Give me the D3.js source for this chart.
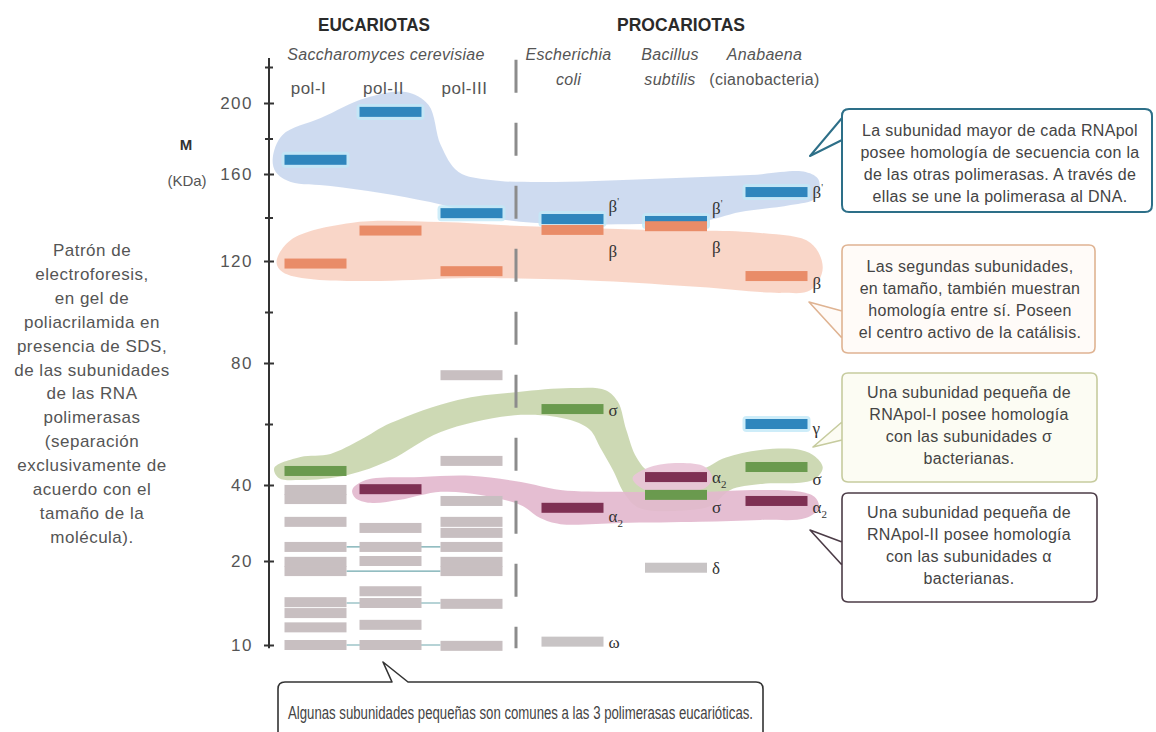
<!DOCTYPE html>
<html>
<head>
<meta charset="utf-8">
<script src="https://cdn.jsdelivr.net/npm/d3@7"></script>
<style>
  body { margin: 0; background: #fff; }
  svg { display: block; font-family: "Liberation Sans", Arial, sans-serif; }
  .greek { font-family: "Liberation Serif", "DejaVu Serif", serif; }
</style>
</head>
<body>
<svg id="chart" width="1156" height="732"></svg>
<script>
// gel lanes
var lanes = ["pol-I", "pol-II", "pol-III", "E. coli", "B. subtilis", "Anabaena"];

// subunit sizes (kDa) read from the gel, null = no band in that lane
var largest   = [168, 195, 142, 139.3, 138.4, 151.7];   // beta' family (blue)
var second    = [119, 134, 116, 134.3, 136, 114.1];     // beta family (orange)
var sigmaLike = [44.6, null, null, 64.9, 37.4, 45.9];   // sigma family (green)
var alphaLike = [null, 38.9, null, 34, 42.6, 35.8];     // alpha family (maroon)
var gammaSub  = [null, null, null, null, null, 60];     // gamma, Anabaena (blue)

// small eukaryotic subunits (grey)
var polISmall   = [38.7, 36.3, 30.3, 23.7, 19.9, 18.8, 15.1, 13.8, 12.1, 10];
var polIISmall  = [28.7, 23.7, 20, 16.4, 15, 12.4, 10];
var polIIISmall = [76, 47.9, 35.8, 30.3, 27.4, 23.7, 19.9, 18.8, 14.9, 9.9];
var commonSmall = [23.7, 18.8, 15, 10];   // shared by the 3 eukaryotic pols

// small bacterial subunits (grey)
var prokSmall = [
  {lane: 3, kDa: 10.4, name: "ω"},
  {lane: 4, kDa: 19.2, name: "δ"}
];

var majorTicks = [10, 20, 40, 80, 120, 160, 200];
var minorTicks = [60, 100, 140, 180, 220];

// homology areas, outline as [lane, kDa]
var blueArea = [[-0.57,169],[-0.44,182],[0.07,191.5],[0.67,202.8],[1.19,206.1],[1.47,198.9],[1.62,176.3],[1.84,161.1],[2.19,157.2],[2.68,156.3],[3.75,157.7],[4.74,159.5],[5.29,161.1],[5.42,157.2],[5.39,149],[5.14,145.7],[4.64,142.5],[4.24,138],[3.65,137],[2.88,137],[2.34,138.9],[1.99,142.5],[1.49,147.1],[0.87,151.3],[0.2,154.5],[-0.33,156.3],[-0.53,161.1]];
var orangeArea = [[-0.52,119.6],[-0.33,129.7],[0.47,137.5],[1.62,137.9],[2.49,136.1],[3.75,134.3],[4.84,132.9],[5.34,128.3],[5.46,117.3],[5.34,108.6],[5.04,107.5],[4.24,109.8],[3.27,112.2],[1.99,113.3],[0.87,112.2],[-0.07,112.9],[-0.44,115.7]];
var greenArea = [[-0.55,45.6],[-0.2,49.2],[0.2,50.2],[0.6,54.8],[1.0,60.3],[1.83,67.9],[2.46,70.5],[2.98,71.8],[3.32,71.1],[3.44,67.2],[3.52,58],[3.62,48.9],[3.75,44.3],[4.24,45],[4.49,48.9],[4.84,51.5],[5.24,51.5],[5.39,49.2],[5.46,45.6],[5.36,41.6],[4.84,40.3],[4.54,38.7],[4.36,34.7],[4.14,33.4],[3.65,33.9],[3.51,37.4],[3.39,44.9],[3.27,52.1],[3.17,58],[2.98,61.3],[2.49,63],[1.62,57.4],[1.0,48.2],[0.43,43.3],[-0.2,41.6],[-0.49,42.3]];
var maroonArea = [[0.49,38.7],[0.67,41.6],[1.37,42.6],[1.99,43],[2.49,41],[2.88,38.7],[3.46,38.2],[4.24,38.2],[4.84,38.7],[5.24,38.2],[5.39,36.6],[5.42,33.9],[5.29,31.3],[4.84,30.8],[4.24,30.3],[3.46,30],[2.88,29.7],[2.68,31.3],[2.49,34.7],[2.09,37.4],[1.62,38.2],[1.12,36.1],[0.73,35.3],[0.53,36.6]];
var alphaBsArea = [[3.58,42.3],[3.75,45.9],[4.04,47.2],[4.29,45.9],[4.36,42.3],[4.29,39.2],[4.04,38.2],[3.7,38.7]];

var leftNote = ["Patrón de", "electroforesis,", "en gel de", "poliacrilamida en", "presencia de SDS,",
  "de las subunidades", "de las RNA", "polimerasas", "(separación", "exclusivamente de",
  "acuerdo con el", "tamaño de la", "molécula)."];

var svg = d3.select("#chart");

// scales: the printed axis is hand spaced, so it is piecewise
var y = d3.scaleLinear()
  .domain([10, 20, 40, 80, 120, 160, 200, 220])
  .range([645, 561, 485, 363, 261, 174, 103, 67]);
var x = d3.scaleLinear()
  .domain([0, 1, 2, 3, 4, 5])
  .range([315.5, 390.5, 471.5, 572.5, 676, 776.5]);
var bandW = 62, bandH = 10;

// homology areas
var blob = d3.line()
  .x(function(d) { return x(d[0]); })
  .y(function(d) { return y(d[1]); })
  .curve(d3.curveCatmullRomClosed.alpha(0.5));

var areas = [
  {pts: blueArea, fill: "#cad8ef"},
  {pts: orangeArea, fill: "#f8d3c3"},
  {pts: greenArea, fill: "#c9d6ae"},
  {pts: maroonArea, fill: "#e3b8ce"},
  {pts: alphaBsArea, fill: "#e9c6d8"}
];
svg.append("g").selectAll("path")
  .data(areas)
  .join("path")
  .attr("d", function(d) { return blob(d.pts); })
  .attr("fill", function(d) { return d.fill; })
  .attr("opacity", 0.92);

// dashed separator eukaryotes / prokaryotes
svg.append("line")
  .attr("x1", 516).attr("x2", 516)
  .attr("y1", y(224)).attr("y2", y(9.6))
  .attr("stroke", "#8c8c8c").attr("stroke-width", 3)
  .attr("stroke-dasharray", "33 30");

// lines joining the common small subunits
svg.append("g").selectAll("line")
  .data(commonSmall)
  .join("line")
  .attr("x1", x(0) + bandW / 2).attr("x2", x(2) - bandW / 2)
  .attr("y1", function(d) { return y(d); })
  .attr("y2", function(d) { return y(d); })
  .attr("stroke", "#6fa7ad").attr("stroke-width", 1.2);

// bands
var bandLayer = svg.append("g");
function drawBand(lane, kDa, color, glow) {
  if (glow) {
    bandLayer.append("rect")
      .attr("x", x(lane) - bandW / 2 - 3).attr("y", y(kDa) - bandH / 2 - 3)
      .attr("width", bandW + 6).attr("height", bandH + 6)
      .attr("rx", 4).attr("fill", glow).attr("opacity", 0.8);
  }
  bandLayer.append("rect")
    .attr("x", x(lane) - bandW / 2).attr("y", y(kDa) - bandH / 2)
    .attr("width", bandW).attr("height", bandH)
    .attr("fill", color);
}
polISmall.forEach(function(v) { drawBand(0, v, "#c8bfc1"); });
polIISmall.forEach(function(v) { drawBand(1, v, "#c8bfc1"); });
polIIISmall.forEach(function(v) { drawBand(2, v, "#c8bfc1"); });
prokSmall.forEach(function(d) { drawBand(d.lane, d.kDa, "#c8c4c5"); });

var families = [
  {vals: largest, color: "#2f86bd", glow: "#c2e9f7", name: "β", prime: true},
  {vals: second, color: "#e98c68", name: "β"},
  {vals: sigmaLike, color: "#6a9a4e", name: "σ"},
  {vals: alphaLike, color: "#7e3053", name: "α", sub: "2"},
  {vals: gammaSub, color: "#2f86bd", glow: "#c2e9f7", name: "γ"}
];
families.forEach(function(f) {
  f.vals.forEach(function(v, i) { if (v != null) drawBand(i, v, f.color, f.glow); });
});

// greek labels on the bacterial lanes
function labelShift(f, i) {
  if (f.prime) return i < 5 ? -13 : 0;
  if (f.name === "β") return i < 5 ? 21 : 7;
  if (f.name === "σ") return i === 3 ? 1 : 12;
  if (f.name === "α") return i === 3 ? 8 : (i === 4 ? 0 : 6);
  if (f.name === "γ") return 4;
  return 0;
}
var labelLayer = svg.append("g").attr("class", "greek")
  .attr("font-size", 17).attr("fill", "#333");
families.forEach(function(f) {
  f.vals.forEach(function(v, i) {
    if (v == null || i < 3) return;
    var t = labelLayer.append("text")
      .attr("x", x(i) + bandW / 2 + 5)
      .attr("y", y(v) + labelShift(f, i) + 6)
      .text(f.name);
    if (f.prime) t.append("tspan").attr("dy", -7).attr("font-size", 10).text("'");
    if (f.sub) t.append("tspan").attr("dy", 5).attr("font-size", 11).text(f.sub);
  });
});
prokSmall.forEach(function(d) {
  labelLayer.append("text")
    .attr("x", x(d.lane) + bandW / 2 + 5)
    .attr("y", y(d.kDa) + 6)
    .text(d.name);
});

// axis
var axisG = svg.append("g").attr("transform", "translate(269,0)");
axisG.call(d3.axisLeft(y).tickValues(majorTicks).tickSize(5).tickSizeOuter(0).tickPadding(11));
axisG.select(".domain").attr("stroke", "#333").attr("stroke-width", 2)
  .attr("d", "M0," + (y(9.6)) + "V" + (y(225)));
axisG.selectAll(".tick line").attr("x1", 5).attr("stroke", "#333").attr("stroke-width", 2);
axisG.selectAll(".tick text").attr("font-size", 17).attr("fill", "#555")
  .attr("letter-spacing", 1.5).attr("font-family", "Liberation Sans, Arial, sans-serif");
var minorG = svg.append("g").attr("transform", "translate(269,0)");
minorG.call(d3.axisLeft(y).tickValues(minorTicks).tickSize(4).tickSizeOuter(0).tickFormat(""));
minorG.select(".domain").remove();
minorG.selectAll(".tick line").attr("x1", 4).attr("stroke", "#333").attr("stroke-width", 2);

svg.append("text").attr("x", 186).attr("y", 150).attr("text-anchor", "middle")
  .attr("font-weight", "bold").attr("font-size", 15).attr("fill", "#333").text("M");
svg.append("text").attr("x", 187).attr("y", 186).attr("text-anchor", "middle")
  .attr("font-size", 15).attr("fill", "#555").text("(KDa)");

// headings
svg.append("text").attr("x", 318).attr("y", 31)
  .attr("font-weight", "bold").attr("font-size", 18)
  .attr("textLength", 112).attr("lengthAdjust", "spacingAndGlyphs")
  .attr("fill", "#2a2a2a").text("EUCARIOTAS");
svg.append("text").attr("x", 617).attr("y", 31)
  .attr("font-weight", "bold").attr("font-size", 18)
  .attr("textLength", 128).attr("lengthAdjust", "spacingAndGlyphs")
  .attr("fill", "#2a2a2a").text("PROCARIOTAS");
svg.append("text").attr("x", 386).attr("y", 60).attr("text-anchor", "middle")
  .attr("font-style", "italic").attr("font-size", 16).attr("letter-spacing", 0.3).attr("fill", "#555")
  .text("Saccharomyces cerevisiae");

var polLabels = svg.append("g").attr("font-size", 17).attr("letter-spacing", 0.5).attr("fill", "#555");
[0, 1, 2].forEach(function(i) {
  polLabels.append("text").attr("x", x(i) - 7).attr("y", 94)
    .attr("text-anchor", "middle").text(lanes[i]);
});
var species = [["Escherichia", "coli"], ["Bacillus", "subtilis"], ["Anabaena", "(cianobacteria)"]];
var specDx = [-4, -6, -12];
var spG = svg.append("g").attr("font-size", 16).attr("letter-spacing", 0.3)
  .attr("fill", "#555").attr("text-anchor", "middle");
species.forEach(function(s, k) {
  var cx = x(k + 3) + specDx[k];
  spG.append("text").attr("x", cx).attr("y", 60).attr("font-style", "italic").text(s[0]);
  spG.append("text").attr("x", cx).attr("y", 85)
    .attr("font-style", k < 2 ? "italic" : "normal").text(s[1]);
});

// left note
svg.append("g").attr("font-size", 17).attr("letter-spacing", 0.5).attr("fill", "#555")
  .attr("text-anchor", "middle")
  .selectAll("text").data(leftNote).join("text")
  .attr("x", 92).attr("y", function(d, i) { return 256 + i * 23.9; })
  .text(function(d) { return d; });

// callouts
function leftTailBox(x0, y0, w, h, r, yA, tip, yB) {
  return "M" + (x0 + r) + "," + y0 + "H" + (x0 + w - r) +
    "Q" + (x0 + w) + "," + y0 + " " + (x0 + w) + "," + (y0 + r) +
    "V" + (y0 + h - r) + "Q" + (x0 + w) + "," + (y0 + h) + " " + (x0 + w - r) + "," + (y0 + h) +
    "H" + (x0 + r) + "Q" + x0 + "," + (y0 + h) + " " + x0 + "," + (y0 + h - r) +
    "V" + yB + "L" + tip[0] + "," + tip[1] + "L" + x0 + "," + yA +
    "V" + (y0 + r) + "Q" + x0 + "," + y0 + " " + (x0 + r) + "," + y0 + "Z";
}
function topTailBox(x0, y0, w, h, r, xA, tip, xB) {
  return "M" + (x0 + r) + "," + y0 + "H" + xA + "L" + tip[0] + "," + tip[1] + "L" + xB + "," + y0 +
    "H" + (x0 + w - r) + "Q" + (x0 + w) + "," + y0 + " " + (x0 + w) + "," + (y0 + r) +
    "V" + (y0 + h - r) + "Q" + (x0 + w) + "," + (y0 + h) + " " + (x0 + w - r) + "," + (y0 + h) +
    "H" + (x0 + r) + "Q" + x0 + "," + (y0 + h) + " " + x0 + "," + (y0 + h - r) +
    "V" + (y0 + r) + "Q" + x0 + "," + y0 + " " + (x0 + r) + "," + y0 + "Z";
}

var notes = [
  {d: leftTailBox(842, 109, 310, 103, 7, 140, [810, 156], 118), stroke: "#2d6f88", fill: "#fff", sw: 2,
   cx: 1000, y0: 136, lines: ["La subunidad mayor de cada RNApol", "posee homología de secuencia con la",
   "de las otras polimerasas. A través de", "ellas se une la polimerasa al DNA."]},
  {d: leftTailBox(842, 245, 253, 108, 6, 338, [809, 302], 311), stroke: "#dfb392", fill: "#fffbf8", sw: 1.6,
   cx: 970, y0: 272, lines: ["Las segundas subunidades,", "en tamaño, también muestran",
   "homología entre sí. Poseen", "el centro activo de la catálisis."]},
  {d: leftTailBox(842, 373, 255, 109, 6, 440, [813, 447], 422), stroke: "#c6cb9e", fill: "#fcfcf3", sw: 1.6,
   cx: 969, y0: 398, lines: ["Una subunidad pequeña de", "RNApol-I posee homología",
   "con las subunidades σ", "bacterianas."]},
  {d: leftTailBox(842, 493, 255, 109, 6, 565, [810, 530], 542), stroke: "#4c3c47", fill: "#fff", sw: 1.6,
   cx: 969, y0: 518, lines: ["Una subunidad pequeña de", "RNApol-II posee homología",
   "con las subunidades α", "bacterianas."]}
];
var noteG = svg.append("g");
notes.forEach(function(n) {
  noteG.append("path").attr("d", n.d).attr("fill", n.fill)
    .attr("stroke", n.stroke).attr("stroke-width", n.sw).attr("stroke-linejoin", "round");
  noteG.append("g").attr("font-size", 16).attr("letter-spacing", 0.3)
    .attr("fill", "#444").attr("text-anchor", "middle")
    .selectAll("text").data(n.lines).join("text")
    .attr("x", n.cx).attr("y", function(d, i) { return n.y0 + i * 22; })
    .text(function(d) { return d; });
});

noteG.append("path").attr("d", topTailBox(278, 682, 485, 70, 7, 392, [383, 662], 408))
  .attr("fill", "#fff").attr("stroke", "#333").attr("stroke-width", 1.6).attr("stroke-linejoin", "round");
noteG.append("text").attr("x", 288).attr("y", 719)
  .attr("font-size", 17.5).attr("fill", "#444")
  .attr("textLength", 465).attr("lengthAdjust", "spacingAndGlyphs")
  .text("Algunas subunidades pequeñas son comunes a las 3 polimerasas eucarióticas.");
</script>
</body>
</html>
